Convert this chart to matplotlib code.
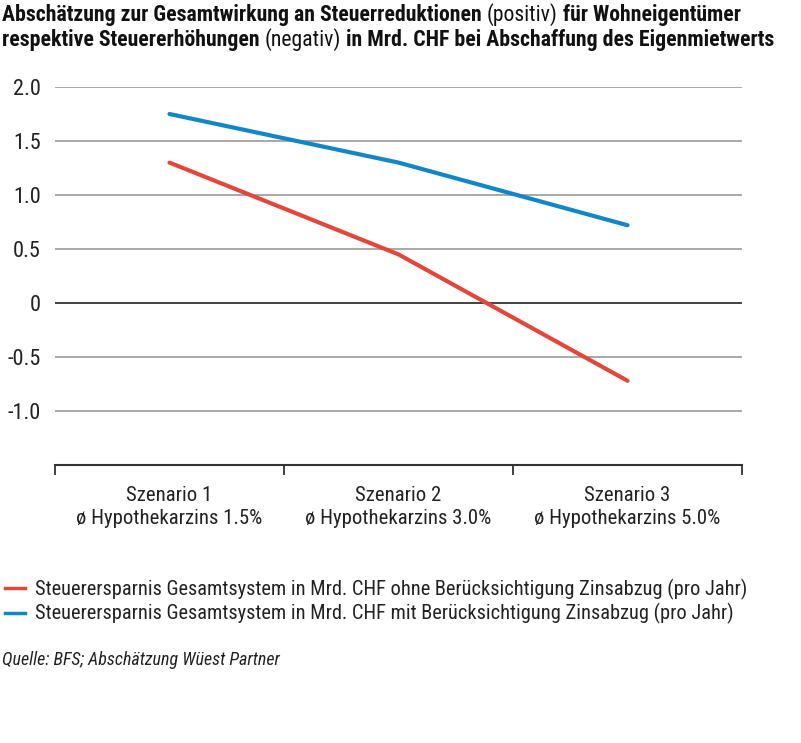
import matplotlib
matplotlib.use("Agg")
import matplotlib.pyplot as plt
from matplotlib import font_manager as fm
from matplotlib.lines import Line2D

# --- data ---
scenarios = ["Szenario 1\nø Hypothekarzins 1.5%",
             "Szenario 2\nø Hypothekarzins 3.0%",
             "Szenario 3\nø Hypothekarzins 5.0%"]
ohne_zinsabzug = [1.30, 0.45, -0.72]
mit_zinsabzug = [1.75, 1.30, 0.72]
y_ticks = [-1.0, -0.5, 0, 0.5, 1.0, 1.5, 2.0]
y_labels = ["-1.0", "-0.5", "0", "0.5", "1.0", "1.5", "2.0"]
series_labels = [
    "Steuerersparnis Gesamtsystem in Mrd. CHF ohne Berücksichtigung Zinsabzug (pro Jahr)",
    "Steuerersparnis Gesamtsystem in Mrd. CHF mit Berücksichtigung Zinsabzug (pro Jahr)",
]
title_parts = [
    [("Abschätzung zur Gesamtwirkung an Steuerreduktionen ", "bold"),
     ("(positiv)", "normal"),
     (" für Wohneigentümer", "bold")],
    [("respektive Steuererhöhungen ", "bold"),
     ("(negativ)", "normal"),
     (" in Mrd. CHF bei Abschaffung des Eigenmietwerts", "bold")],
]
source = "Quelle: BFS; Abschätzung Wüest Partner"

RED = "#e2473b"
BLUE = "#1386c8"
TXT = "#222222"

# pick a condensed family that has regular + bold
fams = {}
for f in fm.fontManager.ttflist:
    fams.setdefault(f.name, set()).add(f.weight if isinstance(f.weight, int) else 400)
FONT = "DejaVu Sans"
for cand in ["Roboto Condensed", "Archivo Narrow", "Fira Sans Condensed",
             "Barlow Condensed", "PT Sans Narrow", "Liberation Sans Narrow"]:
    w = fams.get(cand, set())
    if 400 in w and any(x >= 600 for x in w):
        FONT = cand
        break
plt.rcParams["font.family"] = [FONT, "DejaVu Sans"]

W, H = 801, 743
fig = plt.figure(figsize=(W / 100, H / 100), dpi=100)
renderer = fig.canvas.get_renderer()


def fit_size(text, target_px, **kw):
    # font size that makes the text about target_px wide
    t = fig.text(0, 0, text, fontsize=10, **kw)
    wpx = t.get_window_extent(renderer=renderer).width
    t.remove()
    return 10 * target_px / wpx


ax = fig.add_axes([55 / W, 1 - 465 / H, 687 / W, (465 - 87) / H])

x = range(len(scenarios))
ax.plot(x, ohne_zinsabzug, color=RED, lw=3, solid_capstyle="round", zorder=3)
ax.plot(x, mit_zinsabzug, color=BLUE, lw=3, solid_capstyle="round", zorder=3)

ax.set_xlim(-0.5, 2.5)
ax.set_ylim(-1.5, 2.0)
for v in y_ticks:
    ax.axhline(v, color="#222222" if v == 0 else "#9a9a9a", lw=1.2, zorder=1)

ytick_fs = min(fit_size("-1.0", 35), 16)
ax.set_yticks(y_ticks)
ax.set_yticklabels(y_labels, fontsize=ytick_fs, color=TXT)
ax.tick_params(axis="y", length=0, pad=10)

cat_fs = min(fit_size("ø Hypothekarzins 1.5%", 185), 15)
ax.set_xticks(list(x))
ax.set_xticklabels(scenarios, fontsize=cat_fs, color=TXT, linespacing=1.3)
ax.set_xticks([-0.5, 0.5, 1.5, 2.5], minor=True)
ax.tick_params(axis="x", which="major", length=0, pad=15)
ax.tick_params(axis="x", which="minor", length=7, width=1.3, color="#333333", direction="out")

for s in ["top", "right", "left"]:
    ax.spines[s].set_visible(False)
ax.spines["bottom"].set_color("#333333")
ax.spines["bottom"].set_linewidth(1.5)

# --- title with mixed weights ---
title_fs = min(fit_size("".join(p for p, _ in title_parts[1]), 771, fontweight="bold"), 17)
for i, line in enumerate(title_parts):
    xpos = 2
    ypos = 1 - (21 + i * 25) / H
    for txt, weight in line:
        t = fig.text(xpos / W, ypos, txt, fontsize=title_fs, fontweight=weight,
                     color="#111111", va="baseline", ha="left")
        xpos += t.get_window_extent(renderer=renderer).width

# --- legend ---
leg_fs = min(fit_size(series_labels[0], 706), 15)
handles = [Line2D([], [], color=RED, lw=2.5), Line2D([], [], color=BLUE, lw=2.5)]
fig.legend(handles, series_labels, loc="upper left", bbox_to_anchor=(-0.004, 1 - 571 / H),
           frameon=False, fontsize=leg_fs, handlelength=1.0, handletextpad=0.5,
           labelspacing=0.15, borderaxespad=0, labelcolor=TXT)

src_fs = min(fit_size(source, 278, style="italic"), 13)
fig.text(2 / W, 1 - 665 / H, source, fontsize=src_fs, style="italic", color=TXT,
         ha="left", va="baseline")

fig.savefig("out.png", dpi=100)
